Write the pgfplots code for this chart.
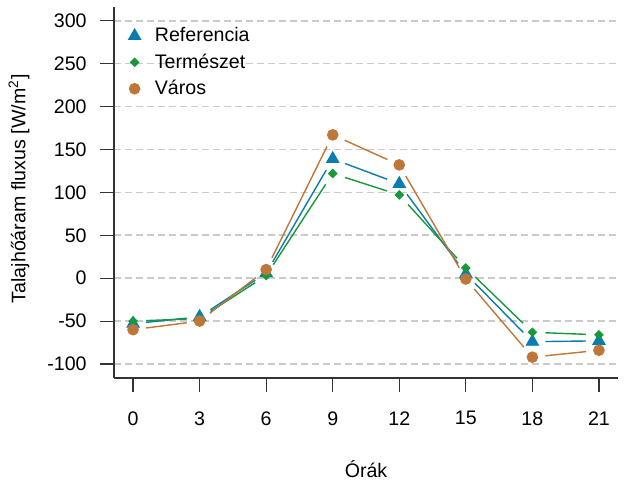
\documentclass[border=0pt]{standalone}
\usepackage{fontspec}
\setmainfont{Liberation Sans}
\usepackage{pgfplots}
\pgfplotsset{compat=1.18}
\usepackage{pgfplotstable}
\definecolor{cref}{HTML}{0A7DB0}
\definecolor{cter}{HTML}{16993A}
\definecolor{cvar}{HTML}{BD7839}
\definecolor{cgrid}{HTML}{CACACA}
\definecolor{caxis}{HTML}{333333}
\pgfplotstableread{
h ref ter var
0 -53 -50 -60
3 -45 -47 -50
6 6 3 10
9 139 122 167
12 110 97 132
15 5 12 -1
18 -74 -63 -92
21 -73 -66 -84
}\data
\begin{document}
\begin{tikzpicture}
\path[use as bounding box] (-57pt,-54.5pt) rectangle (255.5pt,189pt);
\begin{axis}[
  at={(0,0)}, anchor=south west, scale only axis,
  width=252pt, height=185.5pt,
  xmin=-0.86, xmax=21.86, ymin=-116.3, ymax=316,
  axis x line*=bottom, axis y line*=left,
  axis line style={caxis, line width=0.6pt, -},
  xtick={0,3,...,21}, ytick={-100,-50,...,300},
  tick align=outside, major tick length=7pt,
  tick style={caxis, line width=0.6pt},
  ymajorgrids,
  major grid style={cgrid, dash pattern=on 3.3pt off 2.2pt, line width=0.8pt},
  font=\fontsize{9.8}{11.8}\selectfont,
  /pgf/number format/assume math mode=true,
  xticklabel style={anchor=north, inner sep=0pt, yshift=-9.5pt},
  yticklabel style={anchor=east, inner sep=0pt, xshift=-6.5pt},
  xlabel={Órák},
  ylabel={Talajhőáram fluxus [W/m\textsuperscript{2}]},
  xlabel style={anchor=center, at={(axis description cs:0.5,-0.2453)}},
  ylabel style={anchor=center, rotate=0, at={(axis description cs:-0.1885,0.51)}},
  legend style={at={(axis description cs:0,1)}, anchor=north west, draw=none, fill=none,
    xshift=4pt, yshift=-8pt, row sep=4.5pt, font=\fontsize{9.8}{11.8}\selectfont,
    nodes={inner sep=0pt}},
  legend cell align=left,
  legend image code/.code={\draw[#1] plot coordinates {(0pt,0pt)};},
]
\foreach \a/\b in {0/3,3/6,6/9,9/12,12/15,15/18,18/21}{
  \edef\tmp{\noexpand\addplot[cref, line width=0.7pt, shorten <=6.5pt, shorten >=6.5pt, forget plot, restrict x to domain=\a:\b] table[x=h,y=ref]{\noexpand\data};}\tmp
}
\addplot[only marks, mark=triangle*, mark size=3.6pt, color=cref, forget plot] table[x=h,y=ref]{\data};
\foreach \a/\b in {0/3,3/6,6/9,9/12,12/15,15/18,18/21}{
  \edef\tmp{\noexpand\addplot[cter, line width=0.7pt, shorten <=6.5pt, shorten >=6.5pt, forget plot, restrict x to domain=\a:\b] table[x=h,y=ter]{\noexpand\data};}\tmp
}
\addplot[only marks, mark=square*, mark size=1.5pt, mark options={rotate=45}, color=cter, forget plot] table[x=h,y=ter]{\data};
\foreach \a/\b in {0/3,3/6,6/9,9/12,12/15,15/18,18/21}{
  \edef\tmp{\noexpand\addplot[cvar, line width=0.7pt, shorten <=6.5pt, shorten >=6.5pt, forget plot, restrict x to domain=\a:\b] table[x=h,y=var]{\noexpand\data};}\tmp
}
\addplot[only marks, mark=*, mark size=2.7pt, color=cvar, forget plot] table[x=h,y=var]{\data};
\addlegendimage{only marks, mark=triangle*, mark size=3.6pt, color=cref}
\addlegendentry{\hspace{7pt}Referencia}
\addlegendimage{only marks, mark=square*, mark size=1.5pt, mark options={rotate=45}, color=cter}
\addlegendentry{\hspace{7pt}Természet}
\addlegendimage{only marks, mark=*, mark size=2.7pt, color=cvar}
\addlegendentry{\hspace{7pt}Város}
\end{axis}
\end{tikzpicture}
\end{document}
